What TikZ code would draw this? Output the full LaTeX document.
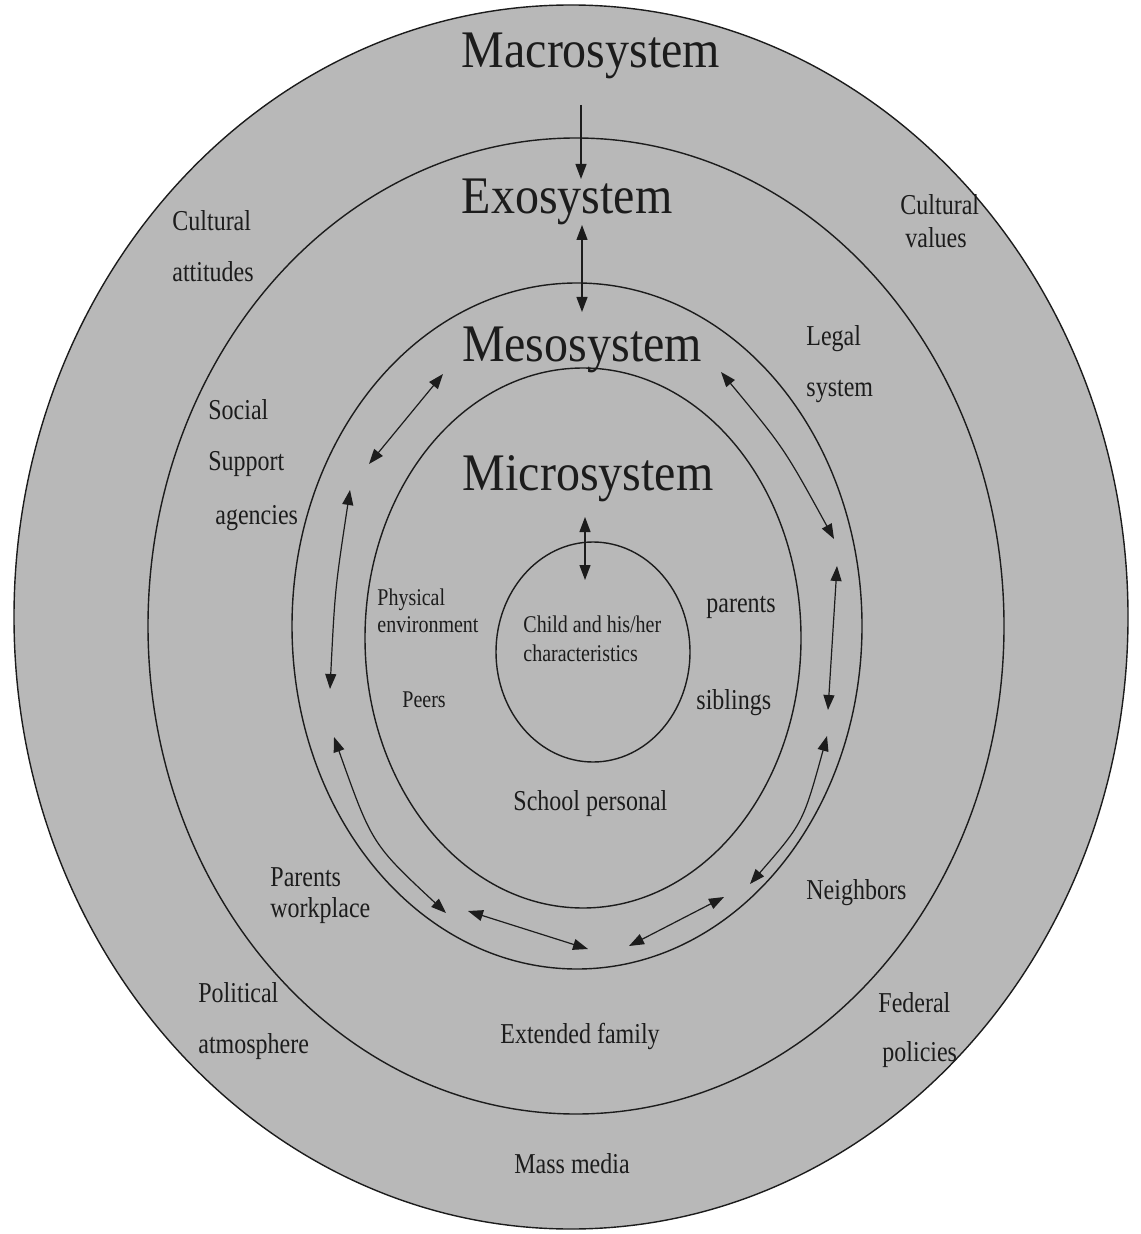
\documentclass[tikz,border=0pt]{standalone}
\usepackage{fontspec}
\setmainfont{Liberation Serif}
\usetikzlibrary{arrows.meta}
\definecolor{ringfill}{RGB}{184,184,184}
\definecolor{ink}{RGB}{28,28,28}
\newcommand\stretchsmall[1]{\scalebox{1}[1.2]{#1}}
\newcommand\stretchbig[1]{\scalebox{1}[1.1]{#1}}
\tikzset{
  ring/.style={draw=ink, line width=0.7pt},
  title/.style={font=\fontsize{24}{28}\selectfont, text=ink, inner sep=0pt, anchor=base},
  lab/.style={font=\fontsize{12}{14}\selectfont, text=ink, inner sep=0pt, anchor=base west},
  labsmall/.style={font=\fontsize{10}{12}\selectfont, text=ink, inner sep=0pt, anchor=base west},
  link/.style={draw=ink, line width=0.6pt, {Triangle[length=7.5pt,width=5.5pt]}-{Triangle[length=7.5pt,width=5.5pt]}},
  oneway/.style={draw=ink, line width=0.6pt, -{Triangle[length=7.5pt,width=5.5pt]}}
}
\begin{document}
\begin{tikzpicture}[x=0.5pt,y=-0.5pt]
\useasboundingbox (0,0) rectangle (1140,1234);
% rings
\fill[ringfill] (571,617) ellipse [x radius=557, y radius=612];
\draw[ring] (571,617) ellipse [x radius=557, y radius=612];
\draw[ring] (576,626) ellipse [x radius=428, y radius=488];
\draw[ring] (577,626) ellipse [x radius=285, y radius=343];
\draw[ring] (583,638) ellipse [x radius=218, y radius=270];
\draw[ring] (593,652) ellipse [x radius=97, y radius=110];

% titles
\node[title] (macro) at (591,68) {\stretchbig{Macrosystem}};
\node[title] (exo) at (567,214) {\stretchbig{Exosystem}};
\node[title] (meso) at (582,362) {\stretchbig{Mesosystem}};
\node[title] (micro) at (588,490) {\stretchbig{Microsystem}};

% labels
\node[lab] (cult1) at (172,231) {\stretchsmall{Cultural}};
\node[lab] (cult2) at (172,282) {\stretchsmall{attitudes}};
\node[lab] (val1) at (900,215) {\stretchsmall{Cultural}};
\node[lab] (val2) at (905,248) {\stretchsmall{values}};
\node[lab] (leg1) at (806,346) {\stretchsmall{Legal}};
\node[lab] (leg2) at (806,397) {\stretchsmall{system}};
\node[lab] (soc1) at (208,420) {\stretchsmall{Social}};
\node[lab] (soc2) at (208,471) {\stretchsmall{Support}};
\node[lab] (soc3) at (215,524) {\stretchsmall{agencies}};
\node[labsmall] (phy1) at (377,605) {\stretchsmall{Physical}};
\node[labsmall] (phy2) at (377,632) {\stretchsmall{environment}};
\node[labsmall] (chi1) at (523,632) {\stretchsmall{Child and his/her}};
\node[labsmall] (chi2) at (523,661) {\stretchsmall{characteristics}};
\node[lab] (par) at (706,612) {\stretchsmall{parents}};
\node[lab] (sib) at (696,709) {\stretchsmall{siblings}};
\node[labsmall] (peer) at (402,707) {\stretchsmall{Peers}};
\node[lab] (school) at (513,810) {\stretchsmall{School personal}};
\node[lab] (work1) at (270,886) {\stretchsmall{Parents}};
\node[lab] (work2) at (270,917) {\stretchsmall{workplace}};
\node[lab] (neigh) at (806,899) {\stretchsmall{Neighbors}};
\node[lab] (pol1) at (198,1002) {\stretchsmall{Political}};
\node[lab] (pol2) at (198,1053) {\stretchsmall{atmosphere}};
\node[lab] (ext) at (500,1043) {\stretchsmall{Extended family}};
\node[lab] (fed1) at (878,1012) {\stretchsmall{Federal}};
\node[lab] (fed2) at (882,1061) {\stretchsmall{policies}};
\node[lab] (mass) at (514,1173) {\stretchsmall{Mass media}};

% connector end points
\coordinate (m1) at (581,105);
\coordinate (m2) at (581,179);
\coordinate (e1) at (582,225);
\coordinate (e2) at (582,312);
\coordinate (c1) at (585,517);
\coordinate (c2) at (585,580);
\coordinate (ul1) at (443,374);
\coordinate (ul2) at (369,464);
\coordinate (l1) at (350,490);
\coordinate (l2) at (330,689);
\coordinate (ll1) at (334,737);
\coordinate (ll2) at (446,913);
\coordinate (b1) at (468,911);
\coordinate (b2) at (588,949);
\coordinate (br1) at (629,946);
\coordinate (br2) at (724,897);
\coordinate (lr1) at (750,884);
\coordinate (lr2) at (827,736);
\coordinate (r1) at (837,566);
\coordinate (r2) at (828,710);
\coordinate (ur1) at (721,372);
\coordinate (ur2) at (834,539);

% connectors
\draw[oneway] (m1) -- (m2);
\draw[link] (e1) -- (e2);
\draw[link] (c1) -- (c2);
\draw[link] (ul1) -- (ul2);
\draw[link] (l1) .. controls (335,589) .. (l2);
\draw[link] (ll1) .. controls (372,844) .. (ll2);
\draw[link] (b1) -- (b2);
\draw[link] (br1) -- (br2);
\draw[link] (lr1) .. controls (803,823) .. (lr2);
\draw[link] (r1) -- (r2);
\draw[link] (ur1) .. controls (784,448) .. (ur2);
\end{tikzpicture}
\end{document}
